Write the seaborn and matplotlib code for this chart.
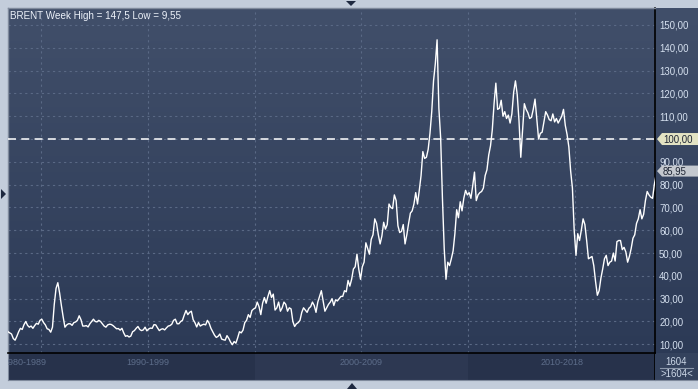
import numpy as np
import pandas as pd
import matplotlib
matplotlib.use("Agg")
import matplotlib.pyplot as plt
import seaborn as sns
from matplotlib.patches import Polygon
from matplotlib.lines import Line2D
from matplotlib.colors import LinearSegmentedColormap
import matplotlib.transforms as mtransforms

plt.rcParams['font.family'] = ['Liberation Sans', 'DejaVu Sans']

# ---------------- data ----------------
title_text = "BRENT Week High = 147,5 Low = 9,55"
count_text = "1604"
count_text2 = ">1604<"
start_year = 1988
start_month = 5
brent = [
    # 1988 (May-Dec)
    16.5, 15.5, 15.0, 14.5, 12.5, 11.8, 13.5, 15.5,
    # 1989
    17.0, 16.5, 18.6, 20.0, 18.3, 17.5, 18.0, 17.0, 18.2, 19.2, 18.8, 20.5,
    # 1990
    21.0, 19.5, 18.5, 16.8, 16.5, 15.3, 17.5, 27.5, 34.5, 37.0, 32.5, 27.0,
    # 1991
    22.0, 17.5, 18.5, 19.0, 19.0, 18.3, 19.5, 19.8, 20.5, 22.5, 20.8, 18.0,
    # 1992
    18.0, 18.2, 17.6, 19.0, 20.0, 21.0, 20.0, 19.8, 20.5, 20.0, 19.0, 18.0,
    # 1993
    17.5, 18.5, 18.8, 18.7, 18.2, 17.5, 16.8, 16.9, 16.2, 17.0, 15.0, 13.5,
    # 1994
    13.8, 13.2, 13.6, 15.5, 16.0, 17.0, 17.8, 16.5, 16.0, 16.3, 17.5, 15.9,
    # 1995
    16.7, 17.1, 17.0, 18.6, 18.5, 17.2, 16.0, 16.6, 16.8, 16.3, 17.2, 18.0,
    # 1996
    18.2, 18.8, 20.5, 21.0, 19.0, 19.0, 20.0, 20.5, 22.8, 24.8, 23.0, 24.0,
    # 1997
    24.5, 20.8, 19.5, 17.6, 19.5, 18.0, 18.5, 18.8, 18.5, 20.5, 19.2, 17.0,
    # 1998
    15.5, 14.0, 13.0, 13.5, 14.5, 12.3, 12.0, 11.8, 13.8, 12.6, 11.0, 9.8,
    # 1999
    11.2, 10.5, 12.8, 15.5, 15.0, 16.2, 19.5, 20.5, 23.0, 21.8, 24.8, 25.5,
    # 2000
    26.0, 28.5, 26.5, 23.0, 28.0, 30.5, 28.0, 31.0, 33.5, 30.5, 32.0, 25.0,
    # 2001
    26.0, 28.5, 24.5, 26.0, 28.5, 27.5, 24.5, 26.0, 25.5, 20.0, 17.8, 19.0,
    # 2002
    19.5, 20.5, 24.0, 26.0, 25.0, 24.0, 25.8, 26.5, 28.5, 27.0, 24.0, 28.5,
    # 2003
    31.0, 33.5, 29.0, 24.5, 26.0, 27.5, 28.5, 30.0, 27.0, 29.5, 29.0, 30.0,
    # 2004
    31.0, 31.0, 33.5, 33.0, 38.0, 35.5, 38.5, 43.0, 44.0, 49.5, 43.0, 38.5,
    # 2005
    44.0, 46.0, 54.5, 52.0, 49.5, 56.0, 58.0, 65.0, 63.0, 58.0, 54.0, 57.5,
    # 2006
    63.5, 60.5, 62.5, 71.5, 70.0, 69.5, 75.5, 73.0, 62.0, 59.0, 59.5, 62.5,
    # 2007
    54.0, 58.0, 63.0, 67.5, 68.5, 71.5, 76.5, 71.5, 77.5, 84.0, 94.5, 91.5,
    # 2008
    92.0, 95.5, 102.5, 112.0, 125.5, 133.0, 143.5, 113.5, 100.5, 74.0, 52.0, 38.5,
    # 2009
    46.0, 44.5, 47.5, 51.0, 58.5, 69.0, 65.5, 72.5, 68.5, 74.0, 77.5, 75.5,
    # 2010
    76.5, 74.0, 79.5, 85.5, 73.0, 75.5, 76.5, 77.0, 78.5, 84.0, 86.5, 93.0,
    # 2011
    97.0, 104.0, 115.5, 124.5, 113.0, 113.5, 117.0, 110.0, 112.0, 109.0, 110.5, 107.0,
    # 2012
    111.0, 120.5, 125.5, 119.5, 108.0, 92.0, 104.0, 115.5, 113.0, 111.5, 109.0, 109.5,
    # 2013
    113.0, 117.5, 108.5, 100.0, 102.5, 103.0, 107.5, 112.0, 110.5, 108.5, 108.0, 111.0,
    # 2014
    107.5, 109.0, 107.0, 108.5, 110.0, 113.0, 106.0, 102.0, 96.5, 86.0, 78.5, 60.0,
    # 2015
    49.0, 58.5, 55.5, 60.0, 65.0, 62.5, 55.5, 47.5, 48.0, 48.5, 44.5, 37.5,
    # 2016
    31.5, 33.5, 39.0, 43.0, 47.5, 49.0, 44.5, 46.0, 46.5, 50.0, 46.5, 55.0,
    # 2017
    55.5, 55.5, 51.5, 52.5, 50.5, 46.0, 48.5, 52.0, 56.5, 58.0, 63.0, 65.0,
    # 2018 (Jan-Oct)
    69.0, 65.0, 67.0, 73.0, 77.0, 75.5, 74.5, 74.0, 80.0, 84.5,
]
y_ticks = [10, 20, 30, 40, 50, 60, 70, 80, 90, 100, 110, 120, 130, 140, 150]
grid_years = [1990, 1995, 2000, 2005, 2010, 2015]
decade_labels = ["1980-1989", "1990-1999", "2000-2009", "2010-2018"]
decade_starts = [1980, 1990, 2000, 2010]
decade_ends = [1990, 2000, 2010, 2019]
ref_level = 100
last_value = 85.95

months = np.arange(len(brent)) + (start_month - 1)
df = pd.DataFrame({"year": start_year + (months + 0.5) / 12.0, "price": brent})

# ---------------- layout ----------------
W, H = 698, 389
fig = plt.figure(figsize=(W / 100, H / 100), dpi=100, facecolor="#c3cddb")

def rect(x0, y0, x1, y1):
    return [x0 / W, 1 - y1 / H, (x1 - x0) / W, (y1 - y0) / H]

XLIM = (1988.46, 2018.74)
YLIM = (6.18, 157.45)

# gradient background (plot + right scale)
bg = fig.add_axes(rect(8, 8, 698, 353), zorder=0)
grad = np.linspace(0, 1, 256).reshape(-1, 1)
cmap = LinearSegmentedColormap.from_list("bg", ["#414f6a", "#2c3a56"])
bg.imshow(grad, aspect="auto", cmap=cmap, extent=[0, 1, 0, 1], origin="upper")
bg.set_axis_off()

ax = fig.add_axes(rect(8, 8, 655, 353), zorder=2)
ax.patch.set_alpha(0)
sns.lineplot(data=df, x="year", y="price", ax=ax, color="white", lw=1.0,
             legend=False, zorder=5)
ax.set_xlim(*XLIM)
ax.set_ylim(*YLIM)
ax.set_xlabel("")
ax.set_ylabel("")
ax.set_xticks(grid_years)
ax.set_xticklabels([])
ax.tick_params(axis="x", length=0)
ax.yaxis.tick_right()
ax.set_yticks(y_ticks)
ax.set_yticklabels(["" if v == ref_level else f"{v:.2f}".replace(".", ",") for v in y_ticks])
ax.tick_params(axis="y", length=0, pad=3, labelcolor="#d6e1f0", labelsize=6.9)
ax.grid(True, color="#5a6985", lw=0.8, ls=(0, (2, 3)))
ax.axhline(ref_level, color="white", lw=1.1, ls=(0, (5.2, 3.5)), zorder=4)
for s in ["top", "left"]:
    ax.spines[s].set_color("#7f8a9c")
    ax.spines[s].set_linewidth(1)
ax.spines["right"].set_color("black")
ax.spines["right"].set_linewidth(1.2)
ax.spines["bottom"].set_color("black")
ax.spines["bottom"].set_linewidth(1.2)

ax.text(0.003, 0.978, title_text, transform=ax.transAxes, color="#edf2fa",
        fontsize=7.1, ha="left", va="center")

# bottom band
band = fig.add_axes(rect(8, 353, 655, 380), zorder=1)
band.set_facecolor("#27324b")
band.set_xlim(*XLIM)
band.set_ylim(0, 1)
band.axvspan(2000, 2010, color="#2d3852", lw=0)
for lab, a, b in zip(decade_labels, decade_starts, decade_ends):
    lo, hi = max(a, XLIM[0]), min(b, XLIM[1])
    band.text((lo + hi) / 2, 0.65, lab, color="#5d6d8a", fontsize=6.5,
              ha="center", va="center", clip_on=True)
band.set_xticks([])
band.set_yticks([])
for s in ["left", "bottom"]:
    band.spines[s].set_color("#7f8a9c")
band.spines["top"].set_visible(False)
band.spines["right"].set_color("black")
band.spines["right"].set_linewidth(1.2)

# bottom-right counter box
cb = fig.add_axes(rect(655, 353, 698, 380), zorder=1)
cb.set_facecolor("#34425d")
cb.set_xlim(0, 1)
cb.set_ylim(0, 1)
cb.set_xticks([])
cb.set_yticks([])
for s in cb.spines.values():
    s.set_visible(False)
cb.spines["bottom"].set_visible(True)
cb.spines["bottom"].set_color("#7f8a9c")
cb.text(0.5, 0.68, count_text, color="#cdd8e8", fontsize=6.9, ha="center", va="center")
cb.text(0.5, 0.24, count_text2, color="#cdd8e8", fontsize=6.9, ha="center", va="center")
cb.add_line(Line2D([0.12, 0.88], [0.46, 0.46], color="#8c98ab", lw=0.8))

# value tags on the right scale
blend = mtransforms.blended_transform_factory(ax.transAxes, ax.transData)

def tag(value, text, face, height):
    x0, yc = blend.transform((1.0, value))
    hh = height / 2
    pts = [(x0 + 2, yc), (x0 + 7, yc + hh), (x0 + 43, yc + hh),
           (x0 + 43, yc - hh), (x0 + 7, yc - hh)]
    fig.patches.append(Polygon(pts, closed=True, transform=None,
                               facecolor=face, edgecolor="none", zorder=10))
    fig.text((x0 + 8) / W, yc / H, text, color="#1d2433", fontsize=6.9,
             ha="left", va="center", zorder=11)

tag(ref_level, "100,00", "#e3e3c3", 12)
tag(last_value, "85,95", "#c4c8cf", 11)

# navigation triangles
tri_col = "#1e2940"
for pts in ([(346, 388), (356, 388), (351, 383)],
            [(347, 0), (357, 0), (352, 6)],
            [(1, H - 189), (1, H - 199), (6, H - 194)]):
    fig.patches.append(Polygon(pts, closed=True, transform=None,
                               facecolor=tri_col, edgecolor="none", zorder=10))

fig.savefig("out.png", dpi=100, facecolor=fig.get_facecolor())
